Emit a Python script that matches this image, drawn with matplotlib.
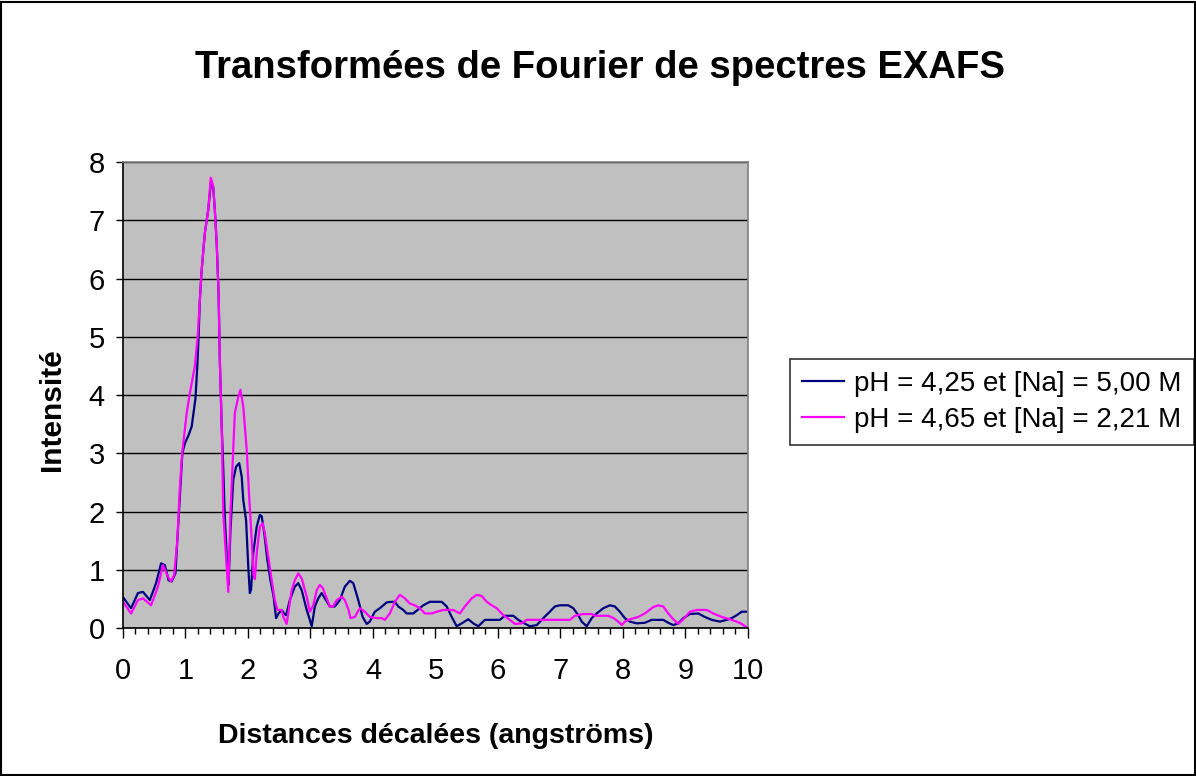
import matplotlib
matplotlib.use("Agg")
import matplotlib.pyplot as plt
from matplotlib.patches import Rectangle
from matplotlib.ticker import MultipleLocator

plt.rcParams["font.family"] = ["Liberation Sans", "DejaVu Sans"]

# pH = 4,25 et [Na] = 5,00 M
dist_bleu = [
    0.00, 0.13, 0.24, 0.32, 0.43, 0.53, 0.61, 0.67, 0.73, 0.78, 0.84, 0.87,
    0.91, 0.95, 0.99, 1.05, 1.10, 1.16, 1.19, 1.21, 1.23, 1.26, 1.31, 1.365,
    1.41, 1.445, 1.47, 1.50, 1.53, 1.55, 1.58, 1.60, 1.63, 1.67, 1.69, 1.72,
    1.765, 1.81, 1.86, 1.90, 1.925, 1.97, 2.005, 2.03, 2.05, 2.085, 2.14, 2.19,
    2.22, 2.26, 2.31, 2.36, 2.41, 2.45, 2.49, 2.54, 2.58, 2.61, 2.67, 2.75,
    2.805, 2.86, 2.94, 2.99, 3.02, 3.07, 3.125, 3.18, 3.23, 3.31, 3.39, 3.47,
    3.55, 3.63, 3.685, 3.765, 3.835, 3.90, 3.95, 4.03, 4.11, 4.22, 4.30, 4.35,
    4.405, 4.485, 4.54, 4.645, 4.725, 4.805, 4.91, 5.10, 5.18, 5.26, 5.34, 5.42,
    5.525, 5.605, 5.685, 5.79, 6.03, 6.11, 6.245, 6.325, 6.405, 6.51, 6.62, 6.725,
    6.83, 6.91, 6.99, 7.125, 7.205, 7.285, 7.34, 7.42, 7.50, 7.58, 7.685, 7.79,
    7.87, 7.95, 8.03, 8.11, 8.22, 8.35, 8.46, 8.645, 8.725, 8.805, 8.885, 8.965,
    9.07, 9.205, 9.31, 9.42, 9.55, 9.66, 9.74, 9.82, 9.90, 9.97,
]
int_bleu = [
    0.53, 0.34, 0.60, 0.62, 0.48, 0.77, 1.11, 1.08, 0.82, 0.80, 0.94, 1.51,
    2.30, 3.00, 3.17, 3.31, 3.46, 3.94, 4.50, 5.00, 5.63, 6.15, 6.78, 7.18,
    7.68, 7.55, 7.18, 6.60, 5.75, 4.60, 3.46, 2.90, 1.90, 1.05, 0.75, 1.68,
    2.54, 2.77, 2.83, 2.60, 2.20, 1.85, 1.05, 0.60, 0.66, 1.28, 1.74, 1.94,
    1.92, 1.63, 1.17, 0.82, 0.54, 0.17, 0.25, 0.31, 0.25, 0.22, 0.48, 0.71,
    0.77, 0.65, 0.31, 0.14, 0.03, 0.37, 0.51, 0.60, 0.51, 0.37, 0.37, 0.48,
    0.71, 0.81, 0.77, 0.48, 0.19, 0.07, 0.11, 0.28, 0.34, 0.44, 0.45, 0.45,
    0.37, 0.31, 0.25, 0.25, 0.32, 0.39, 0.45, 0.45, 0.37, 0.19, 0.03, 0.08,
    0.15, 0.08, 0.03, 0.14, 0.14, 0.21, 0.21, 0.14, 0.09, 0.03, 0.05, 0.17,
    0.28, 0.37, 0.39, 0.39, 0.34, 0.22, 0.11, 0.03, 0.17, 0.25, 0.34, 0.39,
    0.37, 0.28, 0.17, 0.11, 0.08, 0.09, 0.14, 0.14, 0.09, 0.05, 0.08, 0.17,
    0.24, 0.25, 0.19, 0.14, 0.11, 0.14, 0.17, 0.22, 0.28, 0.28,
]

# pH = 4,65 et [Na] = 2,21 M
dist_rose = [
    0.00, 0.13, 0.24, 0.32, 0.45, 0.56, 0.64, 0.72, 0.77, 0.82, 0.87, 0.91,
    0.95, 1.02, 1.07, 1.15, 1.195, 1.23, 1.26, 1.31, 1.365, 1.405, 1.445, 1.47,
    1.50, 1.53, 1.55, 1.58, 1.605, 1.65, 1.685, 1.72, 1.755, 1.79, 1.845, 1.88,
    1.925, 1.98, 2.02, 2.06, 2.09, 2.11, 2.14, 2.19, 2.235, 2.27, 2.325, 2.38,
    2.43, 2.47, 2.54, 2.565, 2.62, 2.70, 2.75, 2.805, 2.86, 2.94, 2.99, 3.045,
    3.10, 3.15, 3.20, 3.26, 3.31, 3.36, 3.42, 3.50, 3.55, 3.61, 3.64, 3.71,
    3.79, 3.87, 3.95, 4.06, 4.14, 4.19, 4.27, 4.35, 4.43, 4.51, 4.59, 4.67,
    4.75, 4.83, 4.94, 5.02, 5.125, 5.285, 5.39, 5.47, 5.58, 5.66, 5.74, 5.82,
    5.90, 5.98, 6.085, 6.19, 6.27, 6.38, 6.46, 6.83, 7.15, 7.23, 7.365, 7.50,
    7.55, 7.765, 7.85, 7.925, 7.98, 8.03, 8.11, 8.245, 8.35, 8.485, 8.565, 8.645,
    8.725, 8.805, 8.885, 8.965, 9.07, 9.18, 9.34, 9.445, 9.58, 9.71, 9.82, 9.90,
    9.97,
]
int_rose = [
    0.45, 0.25, 0.48, 0.51, 0.39, 0.71, 1.08, 0.88, 0.80, 0.91, 1.51, 2.40,
    3.03, 3.69, 4.03, 4.49, 5.00, 5.63, 6.15, 6.78, 7.18, 7.73, 7.58, 7.18,
    6.60, 5.75, 4.60, 3.46, 1.97, 1.22, 0.62, 1.97, 2.83, 3.69, 3.97, 4.09,
    3.80, 3.06, 2.25, 1.51, 0.90, 0.84, 1.28, 1.74, 1.80, 1.63, 1.22, 0.82,
    0.48, 0.31, 0.31, 0.19, 0.07, 0.65, 0.82, 0.94, 0.85, 0.54, 0.28, 0.39,
    0.65, 0.74, 0.68, 0.51, 0.37, 0.37, 0.48, 0.54, 0.48, 0.31, 0.17, 0.19,
    0.34, 0.28, 0.19, 0.17, 0.17, 0.14, 0.25, 0.45, 0.57, 0.51, 0.42, 0.39,
    0.34, 0.25, 0.25, 0.28, 0.31, 0.31, 0.25, 0.37, 0.51, 0.57, 0.55, 0.45,
    0.39, 0.34, 0.22, 0.14, 0.07, 0.08, 0.14, 0.14, 0.14, 0.21, 0.24, 0.24,
    0.21, 0.21, 0.17, 0.11, 0.05, 0.11, 0.15, 0.19, 0.25, 0.36, 0.39, 0.37,
    0.25, 0.15, 0.07, 0.15, 0.28, 0.31, 0.31, 0.25, 0.19, 0.15, 0.11, 0.07,
    0.02,
]

labels = ["pH = 4,25 et [Na] = 5,00 M", "pH = 4,65 et [Na] = 2,21 M"]
couleurs = ["#000080", "#FF00FF"]

fig = plt.figure(figsize=(11.96, 7.76), dpi=100)
fig.patch.set_facecolor("white")
fig.patches.append(Rectangle((0.001, 0.001), 0.998, 0.997, transform=fig.transFigure,
                             fill=False, edgecolor="black", linewidth=1.5))

ax = fig.add_axes([0.1028, 0.1907, 0.5226, 0.6005])
ax.set_facecolor("#C0C0C0")

ax.plot(dist_bleu, int_bleu, color=couleurs[0], lw=1.6, label=labels[0])
ax.plot(dist_rose, int_rose, color=couleurs[1], lw=1.6, label=labels[1])

ax.set_xlim(0, 10)
ax.set_ylim(0, 8)
ax.xaxis.set_major_locator(MultipleLocator(1))
ax.xaxis.set_minor_locator(MultipleLocator(0.2))
ax.yaxis.set_major_locator(MultipleLocator(1))
ax.grid(axis="y", color="black", lw=1)
ax.set_axisbelow(True)

ax.tick_params(axis="x", which="major", direction="out", length=7, width=1,
               labelsize=21, pad=14)
ax.tick_params(axis="x", which="minor", direction="out", length=4, width=1)
ax.tick_params(axis="y", which="major", direction="out", length=5, width=1,
               labelsize=21, pad=8)

for side in ["left", "bottom"]:
    ax.spines[side].set_color("black")
    ax.spines[side].set_linewidth(1.2)
for side in ["top", "right"]:
    ax.spines[side].set_color("#808080")
    ax.spines[side].set_linewidth(1.2)

fig.text(0.502, 0.913, "Transformées de Fourier de spectres EXAFS",
         ha="center", va="center", fontsize=27.5, fontweight="bold")
fig.text(0.364, 0.052, "Distances décalées (angströms)",
         ha="center", va="center", fontsize=20.5, fontweight="bold")
fig.text(0.0435, 0.472, "Intensité", rotation=90,
         ha="center", va="center", fontsize=21.5, fontweight="bold")

leg = fig.legend(loc="center left", bbox_to_anchor=(0.6605, 0.482),
                 fontsize=20, frameon=True, fancybox=False, handlelength=1.5,
                 handletextpad=0.35, borderpad=0.45, labelspacing=0.35,
                 borderaxespad=0)
leg.get_frame().set_edgecolor("black")
leg.get_frame().set_linewidth(1.2)
for line in leg.get_lines():
    line.set_linewidth(1.6)

fig.savefig("out.png", dpi=100)
